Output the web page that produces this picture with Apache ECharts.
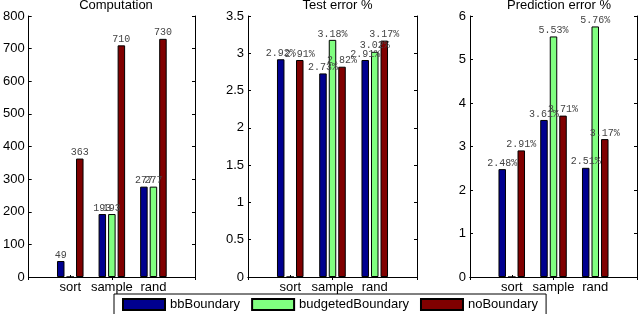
<!DOCTYPE html>
<html>
<head>
<meta charset="utf-8">
<script src="https://cdn.jsdelivr.net/npm/echarts@6/dist/echarts.min.js"></script>
<style>html,body{margin:0;padding:0;background:#fff}#c{width:640px;height:314px}</style>
</head>
<body>
<div id="c"></div>
<script>
const categories = ['sort', 'sample', 'rand'];
const seriesNames = ['bbBoundary', 'budgetedBoundary', 'noBoundary'];
const panelTitles = ['Computation', 'Test error %', 'Prediction error %'];

const compBB = [49, 193, 277];
const compBudget = [0, 193, 277];
const compNo = [363, 710, 730];

const testBB = [2.92, 2.73, 2.91];
const testBudget = [0, 3.18, 3.02];
const testNo = [2.91, 2.82, 3.17];

const predBB = [2.48, 3.61, 2.51];
const predBudget = [0, 5.53, 5.76];
const predNo = [2.91, 3.71, 3.17];

const yMax = [800, 3.5, 6];
const yInterval = [100, 0.5, 1];

const colors = ['#00008f', '#80ff80', '#800000'];
const panels = [
  {data: [compBB, compBudget, compNo], pct: false},
  {data: [testBB, testBudget, testNo], pct: true},
  {data: [predBB, predBudget, predNo], pct: true}
];
const grids = [
  {left: 27, right: 445, top: 16, bottom: 37},
  {left: 248, right: 223, top: 16, bottom: 37},
  {left: 470, right: 2, top: 16, bottom: 37}
];

const axisCats = [''].concat(categories, ['']);
const sansFont = 'Liberation Sans';
const xAxes = [], yAxes = [], series = [], titles = [];

grids.forEach((g, i) => {
  const w = 640 - g.left - g.right;
  titles.push({
    text: panelTitles[i], left: g.left + w / 2, top: -6, textAlign: 'center',
    textStyle: {fontFamily: sansFont, fontSize: 13, fontWeight: 'normal', color: '#000'}
  });
  xAxes.push({
    type: 'category', gridIndex: i, data: axisCats, boundaryGap: false, position: 'bottom',
    axisLine: {lineStyle: {color: '#000', width: 1}},
    axisTick: {inside: true, length: 2, lineStyle: {color: '#000'}},
    axisLabel: {fontFamily: sansFont, fontSize: 13, color: '#000', margin: 4, interval: 0},
    splitLine: {show: false}
  });
  xAxes.push({
    type: 'category', gridIndex: i, data: axisCats, boundaryGap: false, position: 'top',
    axisLine: {lineStyle: {color: '#000', width: 1}},
    axisTick: {inside: true, length: 3, lineStyle: {color: '#000'}},
    axisLabel: {show: false}, splitLine: {show: false}
  });
  yAxes.push({
    type: 'value', gridIndex: i, min: 0, max: yMax[i], interval: yInterval[i], position: 'left',
    axisLine: {show: true, lineStyle: {color: '#000', width: 1}},
    axisTick: {show: true, inside: true, length: 3, lineStyle: {color: '#000'}},
    axisLabel: {fontFamily: sansFont, fontSize: 13, color: '#000', margin: 4},
    splitLine: {show: false}
  });
  yAxes.push({
    type: 'value', gridIndex: i, min: 0, max: yMax[i], interval: yInterval[i], position: 'right',
    axisLine: {show: true, lineStyle: {color: '#000', width: 1}},
    axisTick: {show: true, inside: true, length: 3, lineStyle: {color: '#000'}},
    axisLabel: {show: false}, splitLine: {show: false}
  });
  const p = panels[i];
  p.data.forEach((vals, k) => {
    series.push({
      type: 'bar', name: seriesNames[k],
      xAxisIndex: i * 2, yAxisIndex: i * 2,
      data: [null].concat(vals, [null]),
      barWidth: 7.5, barGap: '27%',
      itemStyle: {color: colors[k], borderColor: '#000', borderWidth: 1},
      label: {
        show: true, position: 'top', distance: 1,
        fontFamily: 'Liberation Mono', fontSize: 10, color: '#444',
        formatter: (prm) => {
          const v = prm.value;
          if (v === null || v === 0) return '';
          return p.pct ? v.toFixed(2) + '%' : String(v);
        }
      },
      animation: false
    });
  });
});

const chart = echarts.init(document.getElementById('c'), null, {renderer: 'canvas'});
chart.setOption({
  animation: false,
  title: titles,
  grid: grids,
  xAxis: xAxes,
  yAxis: yAxes,
  legend: {
    data: seriesNames, left: 114, top: 294,
    orient: 'horizontal',
    itemWidth: 42, itemHeight: 11, itemGap: 11,
    padding: [4, 8, 8, 8],
    borderColor: '#000', borderWidth: 1, backgroundColor: '#fff',
    icon: 'rect',
    textStyle: {fontFamily: sansFont, fontSize: 13, color: '#000'}
  },
  series: series
});
</script>
</body>
</html>
